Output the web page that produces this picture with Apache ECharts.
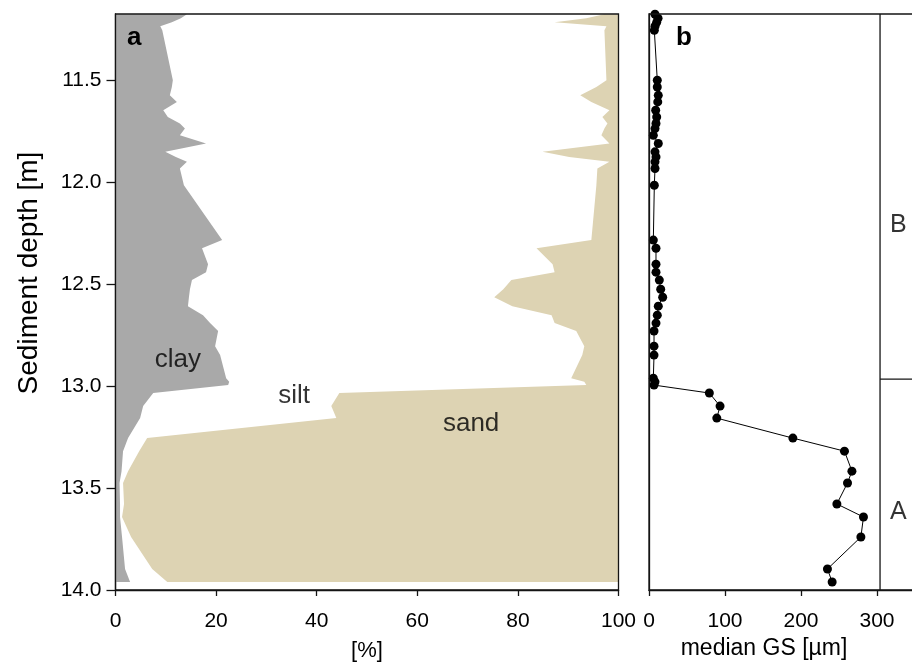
<!DOCTYPE html>
<html>
<head>
<meta charset="utf-8">
<script src="https://cdn.jsdelivr.net/npm/echarts@6/dist/echarts.min.js"></script>
<style>
  html, body { margin: 0; padding: 0; background: #fff; }
  #chart { width: 912px; height: 663px; }
</style>
</head>
<body>
<div id="chart"></div>
<script>
// Sample depths of the core [m]
const depth = [
  11.176, 11.196, 11.216, 11.235, 11.255,
  11.500, 11.533, 11.574, 11.606, 11.647, 11.680, 11.712, 11.737, 11.770,
  11.810, 11.851, 11.876, 11.900, 11.933, 12.015,
  12.284, 12.324, 12.402, 12.441, 12.480, 12.525, 12.564, 12.608, 12.652,
  12.691, 12.730, 12.804, 12.848,
  12.961, 12.979, 12.995,
  13.034, 13.098, 13.157, 13.255, 13.319, 13.417, 13.475, 13.578, 13.642,
  13.740, 13.897, 13.961
];

// Clay fraction [%]
const clay = [
  14.2, 13.0, 11.2, 8.9, 9.3,
  11.4, 11.2, 10.8, 12.2, 9.5, 10.4, 12.8, 13.8, 12.8,
  18.0, 9.9, 12.0, 14.2, 12.8, 13.6,
  21.2, 17.2, 18.4, 18.0, 15.2, 14.8, 14.6, 14.4, 17.4,
  18.8, 20.4, 19.8, 20.8,
  22.0, 22.6, 22.4,
  7.5, 5.5, 4.9, 2.5, 1.5, 1.2, 0.8, 0.9, 0.9,
  1.3, 1.9, 2.9
];

// Sand fraction [%] (silt is the remainder)
const sand = [
  2.8, 6.4, 12.7, 2.4, 2.8,
  2.4, 4.4, 7.6, 5.4, 1.8, 3.2, 2.2, 2.8, 3.4,
  1.8, 15.1, 9.8, 1.8, 4.2, 4.4,
  5.4, 16.3, 13.1, 12.7, 21.3, 22.9, 24.7, 21.1, 13.3,
  12.7, 8.4, 6.8, 7.2,
  9.4, 6.8, 6.4,
  55.5, 57.1, 56.1, 93.7, 95.3, 97.5, 98.5, 98.3, 98.7,
  96.9, 92.7, 89.7
];

// Median grain size [µm]
const medianGS = [
  7.9, 11.9, 10.1, 7.9, 7.0,
  10.9, 10.9, 12.2, 11.5, 8.8, 10.1, 9.2, 7.9, 5.7,
  12.2, 7.9, 9.2, 7.9, 7.9, 7.0,
  5.7, 9.2, 9.2, 9.2, 13.6, 15.4, 18.0, 12.2, 10.9,
  9.2, 6.6, 6.6, 6.6,
  5.7, 7.9, 6.6,
  79.4, 93.5, 89.2, 189.3, 257.2, 267.0, 261.2, 247.2, 282.2,
  278.8, 234.8, 241.0
];

const depthRange = [11.175, 14.0];
const depthTicks = [11.5, 12.0, 12.5, 13.0, 13.5, 14.0];
const gsTicks = [0, 100, 200, 300];
const gsAxisMax = 350;

// Lithological units beside panel b
const unitColumnX = 304;
const unitBoundaryDepth = 12.966;
const unitNames = ['B', 'A'];
const unitLabelDepths = [12.21, 13.62];
const unitLabelX = 328;

// Fraction names written inside panel a
const fractionNames = ['clay', 'silt', 'sand'];
const fractionLabelX = [12.4, 35.5, 70.7];
const fractionLabelDepth = [12.872, 13.046, 13.184];

const FONT = "'Liberation Sans', Arial, sans-serif";
const INK = '#000000';
const CLAY_COLOR = '#a9a9a9';
const SAND_COLOR = '#ddd3b3';

const chart = echarts.init(document.getElementById('chart'), null, { renderer: 'canvas' });

// Filled profile between a fixed edge (0 or 100 %) and a per-sample boundary
function profileArea(edgeX, boundaryAt, color) {
  return {
    type: 'custom',
    xAxisIndex: 0,
    yAxisIndex: 0,
    silent: true,
    z: 1,
    data: [[edgeX, depth[0]]],
    renderItem: function (params, api) {
      const pts = [api.coord([edgeX, depth[0]])];
      for (let i = 0; i < depth.length; i++) {
        pts.push(api.coord([boundaryAt(i), depth[i]]));
      }
      pts.push(api.coord([edgeX, depth[depth.length - 1]]));
      return { type: 'polygon', shape: { points: pts }, style: { fill: color } };
    }
  };
}

const axisLineStyle = { color: '#141414', width: 1.3 };
const tickLabelStyle = { fontFamily: FONT, fontSize: 21, color: INK };

const option = {
  animation: false,
  backgroundColor: '#ffffff',
  textStyle: { fontFamily: FONT },
  grid: [
    { left: 115.5, top: 14, width: 503, height: 576, show: true, outerBoundsMode: 'none',
      borderColor: '#141414', borderWidth: 1.3, backgroundColor: 'transparent', z: 10 },
    { left: 649, top: 14, width: 266, height: 576, show: true, outerBoundsMode: 'none',
      borderColor: '#141414', borderWidth: 1.3, backgroundColor: 'transparent', z: 10 }
  ],
  xAxis: [
    {
      gridIndex: 0, type: 'value', min: 0, max: 100, interval: 20,
      axisLine: { show: true, lineStyle: axisLineStyle },
      axisTick: { show: true, length: 6, lineStyle: axisLineStyle },
      axisLabel: Object.assign({ margin: 21 }, tickLabelStyle),
      splitLine: { show: false },
      name: '[%]', nameLocation: 'middle', nameGap: 50,
      nameTextStyle: { fontFamily: FONT, fontSize: 22, color: INK }
    },
    {
      gridIndex: 1, type: 'value', min: 0, max: gsAxisMax,
      axisLine: { show: true, lineStyle: axisLineStyle },
      axisTick: { show: true, length: 6, lineStyle: axisLineStyle, customValues: gsTicks },
      axisLabel: Object.assign({ margin: 21, customValues: gsTicks }, tickLabelStyle),
      splitLine: { show: false },
      name: 'median GS [µm]', nameLocation: 'middle', nameGap: 47,
      nameTextStyle: { fontFamily: FONT, fontSize: 23, color: INK, padding: [0, 36, 0, 0] }
    }
  ],
  yAxis: [
    {
      gridIndex: 0, type: 'value', inverse: true,
      min: depthRange[0], max: depthRange[1],
      axisLine: { show: true, lineStyle: axisLineStyle },
      axisTick: { show: true, length: 9, lineStyle: axisLineStyle, customValues: depthTicks },
      axisLabel: Object.assign({ margin: 14, customValues: depthTicks,
        formatter: function (v) { return Number(v).toFixed(1); } }, tickLabelStyle),
      splitLine: { show: false },
      name: 'Sediment depth [m]', nameLocation: 'middle', nameGap: 72, nameRotate: 90,
      nameTextStyle: { fontFamily: FONT, fontSize: 28, color: INK, padding: [0, 0, 0, 58] }
    },
    {
      gridIndex: 1, type: 'value', inverse: true,
      min: depthRange[0], max: depthRange[1],
      axisLine: { show: true, lineStyle: axisLineStyle },
      axisTick: { show: false },
      axisLabel: { show: false },
      splitLine: { show: false }
    }
  ],
  graphic: [
    { type: 'text', left: 127, top: 25, z: 20,
      style: { text: 'a', font: "bold 26px 'Liberation Sans', Arial, sans-serif", fill: INK } },
    { type: 'text', left: 676, top: 25, z: 20,
      style: { text: 'b', font: "bold 26px 'Liberation Sans', Arial, sans-serif", fill: INK } }
  ],
  series: [
    profileArea(100, function (i) { return 100 - sand[i]; }, SAND_COLOR),
    profileArea(0, function (i) { return clay[i]; }, CLAY_COLOR),
    {
      type: 'scatter', xAxisIndex: 0, yAxisIndex: 0, silent: true, z: 5,
      symbolSize: 0,
      data: fractionNames.map(function (n, i) {
        return { name: n, value: [fractionLabelX[i], fractionLabelDepth[i]] };
      }),
      label: { show: true, position: 'inside', formatter: '{b}',
        fontFamily: FONT, fontSize: 26, color: INK }
    },
    {
      type: 'line', xAxisIndex: 1, yAxisIndex: 1, z: 6, clip: false,
      data: medianGS.map(function (v, i) { return [v, depth[i]]; }),
      symbol: 'circle', symbolSize: 9, showSymbol: true,
      lineStyle: { color: INK, width: 1 },
      itemStyle: { color: '#000000' }
    },
    {
      type: 'line', xAxisIndex: 1, yAxisIndex: 1, z: 4, symbol: 'none',
      data: [[unitColumnX, depthRange[0]], [unitColumnX, depthRange[1]]],
      lineStyle: { color: '#141414', width: 1.3 }
    },
    {
      type: 'line', xAxisIndex: 1, yAxisIndex: 1, z: 4, symbol: 'none',
      data: [[unitColumnX, unitBoundaryDepth], [gsAxisMax, unitBoundaryDepth]],
      lineStyle: { color: '#141414', width: 1.3 }
    },
    {
      type: 'scatter', xAxisIndex: 1, yAxisIndex: 1, silent: true, z: 5,
      symbolSize: 0, clip: false,
      data: unitNames.map(function (n, i) {
        return { name: n, value: [unitLabelX, unitLabelDepths[i]] };
      }),
      label: { show: true, position: 'inside', formatter: '{b}',
        fontFamily: FONT, fontSize: 25, color: INK }
    }
  ]
};

chart.setOption(option);
</script>
</body>
</html>
